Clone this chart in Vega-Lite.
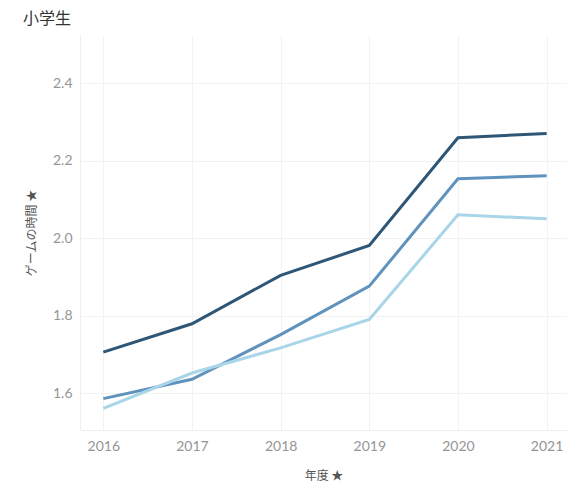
{
  "$schema": "https://vega.github.io/schema/vega-lite/v6.json",
  "autosize": {"type": "none"},
  "padding": {"left": 80, "top": 35, "right": 0, "bottom": 56},
  "width": 487,
  "height": 395,
  "background": "white",
  "title": {
    "text": "小学生",
    "anchor": "start",
    "frame": "group",
    "dx": -57,
    "offset": 8,
    "font": "Noto Sans CJK JP",
    "fontSize": 16,
    "fontWeight": "normal",
    "color": "#333333"
  },
  "config": {
    "view": {"stroke": null},
    "font": "Noto Sans CJK JP"
  },
  "data": {
    "values": [
      {"year": 2016, "group": "A", "value": 1.706},
      {"year": 2017, "group": "A", "value": 1.779},
      {"year": 2018, "group": "A", "value": 1.904},
      {"year": 2019, "group": "A", "value": 1.981},
      {"year": 2020, "group": "A", "value": 2.259},
      {"year": 2021, "group": "A", "value": 2.270},
      {"year": 2016, "group": "B", "value": 1.586},
      {"year": 2017, "group": "B", "value": 1.636},
      {"year": 2018, "group": "B", "value": 1.751},
      {"year": 2019, "group": "B", "value": 1.876},
      {"year": 2020, "group": "B", "value": 2.153},
      {"year": 2021, "group": "B", "value": 2.161},
      {"year": 2016, "group": "C", "value": 1.561},
      {"year": 2017, "group": "C", "value": 1.652},
      {"year": 2018, "group": "C", "value": 1.717},
      {"year": 2019, "group": "C", "value": 1.790},
      {"year": 2020, "group": "C", "value": 2.060},
      {"year": 2021, "group": "C", "value": 2.050}
    ]
  },
  "mark": {"type": "line", "strokeWidth": 3, "strokeJoin": "miter", "strokeCap": "butt"},
  "encoding": {
    "x": {
      "field": "year",
      "type": "quantitative",
      "scale": {"domain": [2015.737, 2021.23], "nice": false, "zero": false},
      "axis": {
        "title": "年度 ★",
        "values": [2016, 2017, 2018, 2019, 2020, 2021],
        "format": "d",
        "ticks": false,
        "domain": true,
        "domainColor": "#eeeeee",
        "gridColor": "#f2f2f2",
        "labelColor": "#959595",
        "labelFontSize": 14,
        "labelFont": "Lato",
        "labelPadding": 9,
        "titleColor": "#555555",
        "titleFontSize": 12,
        "titleFontWeight": "normal",
        "titlePadding": 17
      }
    },
    "y": {
      "field": "value",
      "type": "quantitative",
      "scale": {"domain": [1.505, 2.524], "nice": false, "zero": false},
      "axis": {
        "title": "ゲームの時間 ★",
        "values": [1.6, 1.8, 2.0, 2.2, 2.4],
        "format": ".1f",
        "ticks": false,
        "domain": true,
        "domainColor": "#eeeeee",
        "gridColor": "#f2f2f2",
        "labelColor": "#959595",
        "labelFontSize": 14,
        "labelFont": "Lato",
        "labelPadding": 8,
        "titleColor": "#555555",
        "titleFontSize": 12,
        "titleFontWeight": "normal",
        "titlePadding": 14
      }
    },
    "color": {
      "field": "group",
      "type": "nominal",
      "scale": {"domain": ["A", "B", "C"], "range": ["#2e5677", "#5f92bd", "#a9d5e9"]},
      "legend": null
    },
    "order": {"field": "group", "sort": "descending"}
  }
}
